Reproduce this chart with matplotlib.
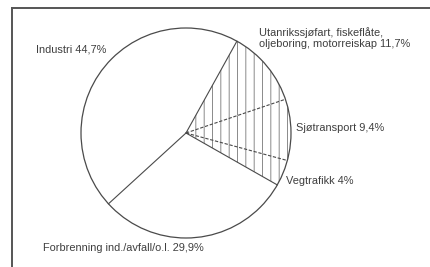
import matplotlib
matplotlib.use("Agg")
import matplotlib.pyplot as plt
import numpy as np
from matplotlib.lines import Line2D

plt.rcParams['font.family'] = ['Liberation Sans', 'DejaVu Sans']
plt.rcParams['hatch.linewidth'] = 0.6

labels = ["Industri 44,7%", "Forbrenning ind./avfall/o.l. 29,9%", "Vegtrafikk 4%",
          "Sjøtransport 9,4%", "Utanrikssjøfart, fiskeflåte,\noljeboring, motorreiskap 11,7%"]
shares = [44.7, 29.9, 4.0, 9.4, 11.7]
hatched = [False, False, True, True, True]
start = 61

W, H = 430, 267
fig = plt.figure(figsize=(W / 100, H / 100), dpi=100)
ax = fig.add_axes([0, 0, 1, 1])

cx, cy, r = 186, H - 133, 105
wedges, _ = ax.pie(shares, startangle=start, counterclock=True, center=(cx, cy),
                   radius=r, normalize=True, frame=True,
                   wedgeprops=dict(linewidth=0, facecolor='white'))
for w, h in zip(wedges, hatched):
    if h:
        w.set_hatch('||')
        w.set_edgecolor('#777777')
ax.set_xlim(0, W)
ax.set_ylim(0, H)
ax.set_aspect('auto')
ax.axis('off')

line_col = '#4a4a4a'
ax.add_patch(plt.Circle((cx, cy), r, fill=False, edgecolor=line_col, lw=0.9))

# slice boundaries, dashed between two hatched slices
frac = np.array(shares) / sum(shares)
bounds = start + 360 * np.concatenate([[0], np.cumsum(frac)[:-1]])
for i, a in enumerate(bounds):
    t = np.deg2rad(a)
    xs = [cx, cx + r * np.cos(t)]
    ys = [cy, cy + r * np.sin(t)]
    if hatched[i - 1] and hatched[i]:
        ax.plot(xs, ys, color=line_col, lw=0.8, ls='--', dashes=(3, 1.5))
    else:
        ax.plot(xs, ys, color=line_col, lw=0.8)

txt = dict(fontsize=7.9, color='#3f3f3f', va='center', ha='left')
ax.text(36, H - 50, labels[0], **txt)
ax.text(43, H - 248, labels[1], **txt)
ax.text(286, H - 181, labels[2], **txt)
ax.text(296, H - 128, labels[3], **txt)
ax.text(259, H - 38, labels[4], linespacing=1.2, **txt)

# frame
fig.add_artist(Line2D([12 / W, 12 / W], [0, 1 - 8 / H], color='#555555', lw=1.4))
fig.add_artist(Line2D([12 / W, 1], [1 - 8 / H, 1 - 8 / H], color='#555555', lw=1.4))

fig.savefig("out.png", dpi=100)
